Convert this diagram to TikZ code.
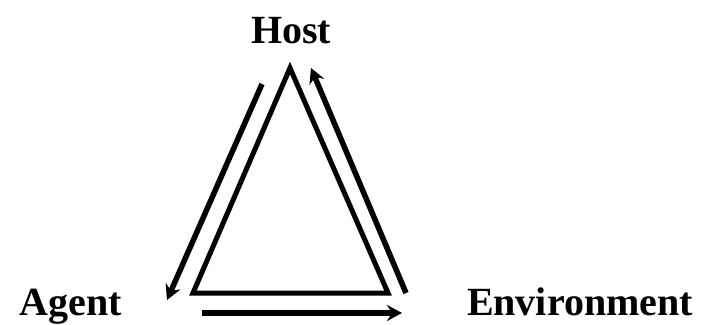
\documentclass[tikz,border=0pt]{standalone}
\usepackage{fontspec}
\setmainfont{Liberation Serif}
\usetikzlibrary{arrows.meta}
\begin{document}
\begin{tikzpicture}[x=1pt,y=-1pt,
  lbl/.style={font=\fontsize{40}{40}\selectfont\bfseries, anchor=base, inner sep=0pt},
  tri/.style={line width=5pt, line join=miter},
  flow/.style={line width=5.5pt, -{Stealth[length=15pt,width=16pt,inset=5pt]}}]
\useasboundingbox (0,0) rectangle (703,324);
\node[lbl] (host) at (291,43) {Host};
\node[lbl] (agent) at (71,315) {Agent};
\node[lbl] (env) at (580,315) {Environment};
\coordinate (apex) at (290,68);
\coordinate (bl) at (193,293);
\coordinate (br) at (388,293);
\draw[tri] (apex) -- (bl) -- (br) -- cycle;
\coordinate (a1) at (262,84);
\coordinate (a2) at (167,300);
\coordinate (b1) at (202,313);
\coordinate (b2) at (402,313);
\coordinate (c1) at (406,293);
\coordinate (c2) at (311,68);
\draw[flow] (a1) -- (a2);
\draw[flow] (b1) -- (b2);
\draw[flow] (c1) -- (c2);
\end{tikzpicture}
\end{document}
